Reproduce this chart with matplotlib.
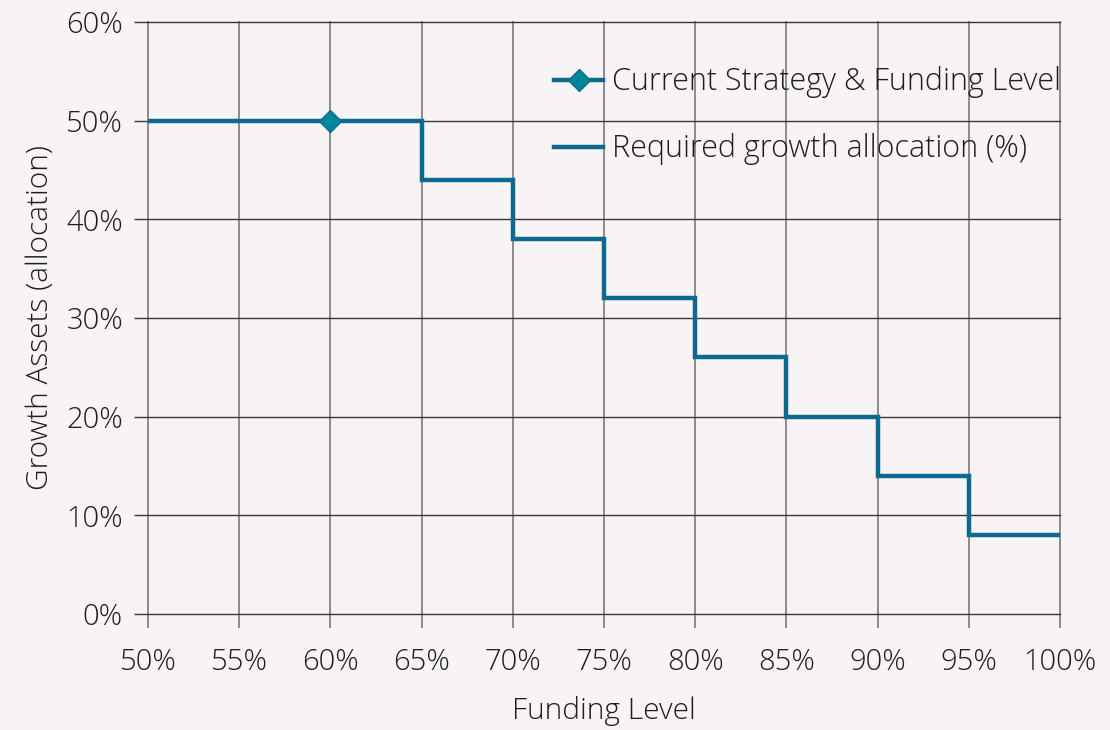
import matplotlib
matplotlib.use("Agg")
import matplotlib.pyplot as plt
from matplotlib.ticker import FuncFormatter

plt.rcParams['font.family'] = ['Open Sans', 'DejaVu Sans']
plt.rcParams['font.weight'] = 'light'
plt.rcParams['axes.labelweight'] = 'light'

# Data
funding_edges = [50, 65, 70, 75, 80, 85, 90, 95, 100]
required_alloc = [50, 44, 38, 32, 26, 20, 14, 8]
current_funding = [60]
current_alloc = [50]
x_ticks = [50, 55, 60, 65, 70, 75, 80, 85, 90, 95, 100]
y_ticks = [0, 10, 20, 30, 40, 50, 60]

bg = '#f8f3f5'
line_c = '#0b6a8d'
marker_c = '#00869c'
txt_c = '#1e1e1e'

fig = plt.figure(figsize=(11.1, 7.3), dpi=100, facecolor=bg)
ax = fig.add_axes([148/1110, 1 - 614/730, (1060-148)/1110, (614-22)/730])
ax.set_facecolor(bg)

ax.stairs(required_alloc, funding_edges, baseline=None, color=line_c, lw=3.2,
          label='Required growth allocation (%)', zorder=3)
ax.plot(current_funding, current_alloc, marker='D', ms=11, color=line_c,
        mfc=marker_c, mec=line_c, lw=3.2, zorder=4,
        label='Current Strategy & Funding Level')

ax.set_xlim(50, 100)
ax.set_ylim(0, 60)
ax.set_xticks(x_ticks)
ax.set_yticks(y_ticks)
pct = FuncFormatter(lambda v, p: f'{v:.0f}%')
ax.xaxis.set_major_formatter(pct)
ax.yaxis.set_major_formatter(pct)

for s in ax.spines.values():
    s.set_visible(False)

ax.grid(axis='x', color='#8c8c8c', lw=1.4, zorder=1)
ax.grid(axis='y', color='#3a3a3a', lw=1.0, zorder=1)
for gl in ax.get_xgridlines() + ax.get_ygridlines():
    gl.set_clip_on(False)
ax.tick_params(axis='x', direction='out', length=10, width=1.4, color='#8c8c8c',
               labelsize=21, labelcolor=txt_c, pad=14)
ax.tick_params(axis='y', direction='out', length=10, width=1.0, color='#3a3a3a',
               labelsize=21, labelcolor=txt_c, pad=8)

ax.set_xlabel('Funding Level', fontsize=21.5, color=txt_c, labelpad=14)
ax.set_ylabel('Growth Assets (allocation)', fontsize=21.5, color=txt_c, labelpad=8)

handles, labels = ax.get_legend_handles_labels()
leg = ax.legend(handles[::-1], labels[::-1], loc='upper left',
                bbox_to_anchor=((553-148)/912 - 0.012, 1 - (54-22)/592),
                frameon=False, fontsize=22, handlelength=1.6, handletextpad=0.28,
                labelspacing=1.15, borderaxespad=0)
for t in leg.get_texts():
    t.set_color(txt_c)

fig.savefig('out.png', dpi=100, facecolor=bg)
